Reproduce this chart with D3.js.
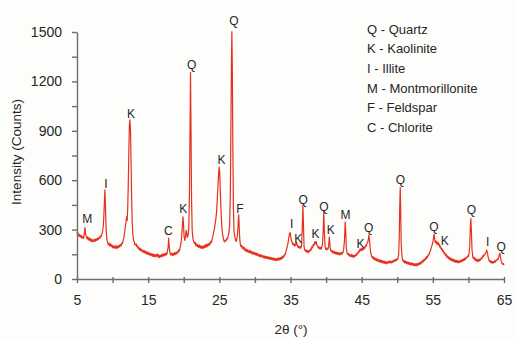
<!DOCTYPE html>
<html>
<head>
<meta charset="utf-8">
<script src="https://cdn.jsdelivr.net/npm/d3@7"></script>
<style>
  body { margin: 0; background: #fdfdfb; }
  text { font-family: "Liberation Sans", Arial, sans-serif; }
</style>
</head>
<body>
<svg id="xrd" width="517" height="340"></svg>
<script>
// XRD pattern, [2θ, counts]
const trace = [
  [5.0,285],[5.1,268],[5.2,276],[5.3,258],[5.4,270],[5.5,254],[5.6,264],[5.7,248],[5.8,258],[5.9,246],
  [6.0,266],[6.06,292],[6.12,312],[6.2,276],[6.3,256],[6.4,244],[6.5,256],[6.6,238],[6.7,250],[6.8,232],
  [6.9,246],[7.0,228],[7.1,240],[7.2,226],[7.3,238],[7.4,228],[7.5,242],[7.6,230],[7.7,244],[7.8,234],
  [7.9,248],[8.0,240],[8.1,254],[8.2,246],[8.3,262],[8.4,258],[8.5,274],[8.6,292],[8.7,326],[8.78,390],
  [8.85,470],[8.92,542],[8.98,470],[9.05,360],[9.12,282],[9.2,240],[9.3,224],[9.4,208],[9.5,218],[9.6,200],
  [9.7,214],[9.8,196],[9.9,208],[10.0,190],[10.1,202],[10.2,186],[10.3,200],[10.4,188],[10.5,204],[10.6,184],
  [10.7,198],[10.8,190],[10.9,206],[11.0,194],[11.1,210],[11.2,202],[11.3,220],[11.4,216],[11.5,238],[11.6,254],
  [11.7,284],[11.8,320],[11.9,352],[11.97,378],[12.05,356],[12.12,420],[12.2,560],[12.28,760],[12.36,930],[12.44,966],
  [12.52,900],[12.6,700],[12.68,480],[12.76,340],[12.85,270],[12.95,234],[13.05,226],[13.15,206],[13.3,214],[13.4,196],
  [13.5,202],[13.6,184],[13.7,192],[13.8,176],[13.9,186],[14.0,170],[14.1,180],[14.2,164],[14.3,174],[14.4,160],
  [14.5,172],[14.6,156],[14.7,168],[14.8,152],[14.9,164],[15.0,148],[15.1,160],[15.2,146],[15.3,156],[15.4,142],
  [15.5,154],[15.6,138],[15.7,152],[15.8,136],[15.9,148],[16.0,134],[16.1,150],[16.2,138],[16.3,152],[16.4,132],
  [16.5,146],[16.6,130],[16.7,144],[16.8,134],[16.9,150],[17.0,136],[17.1,152],[17.2,140],[17.3,154],[17.4,142],
  [17.5,158],[17.6,148],[17.7,164],[17.8,192],[17.88,248],[17.95,200],[18.05,160],[18.15,146],[18.3,158],[18.4,142],
  [18.5,156],[18.6,144],[18.7,160],[18.8,148],[18.9,162],[19.0,152],[19.1,168],[19.2,160],[19.3,178],[19.4,170],
  [19.5,192],[19.6,214],[19.7,252],[19.8,320],[19.9,378],[19.97,330],[20.05,256],[20.15,234],[20.25,262],[20.35,296],
  [20.42,282],[20.5,252],[20.6,264],[20.7,302],[20.8,520],[20.88,900],[20.95,1255],[21.02,900],[21.1,480],[21.18,300],
  [21.28,248],[21.38,230],[21.5,216],[21.6,224],[21.7,202],[21.8,214],[21.9,196],[22.0,208],[22.1,192],[22.2,206],
  [22.3,188],[22.4,202],[22.5,186],[22.6,200],[22.7,184],[22.8,202],[22.9,190],[23.0,208],[23.1,192],[23.2,210],
  [23.3,196],[23.4,214],[23.5,202],[23.6,220],[23.7,210],[23.8,228],[23.9,222],[24.0,242],[24.1,260],[24.2,284],
  [24.3,302],[24.4,332],[24.5,362],[24.6,402],[24.7,472],[24.8,560],[24.9,640],[24.98,680],[25.06,640],[25.15,520],
  [25.25,400],[25.35,320],[25.45,272],[25.55,250],[25.65,232],[25.75,226],[25.85,236],[25.95,232],[26.05,248],[26.15,244],
  [26.25,262],[26.35,282],[26.45,330],[26.55,520],[26.62,900],[26.7,1300],[26.76,1502],[26.82,1300],[26.9,800],[26.98,430],
  [27.06,290],[27.15,262],[27.25,240],[27.35,228],[27.45,240],[27.55,270],[27.65,340],[27.72,390],[27.78,330],[27.86,250],
  [27.95,210],[28.05,196],[28.15,204],[28.25,186],[28.35,196],[28.45,178],[28.55,190],[28.65,170],[28.75,182],[28.85,166],
  [28.95,178],[29.05,162],[29.15,174],[29.25,160],[29.35,172],[29.45,156],[29.55,168],[29.65,152],[29.75,164],[29.85,150],
  [29.95,162],[30.05,146],[30.15,158],[30.25,144],[30.35,156],[30.45,140],[30.55,150],[30.65,136],[30.75,148],[30.85,134],
  [30.95,146],[31.05,132],[31.15,142],[31.25,128],[31.35,140],[31.45,126],[31.55,138],[31.65,124],[31.75,136],[31.85,122],
  [31.95,134],[32.05,120],[32.15,132],[32.25,118],[32.35,130],[32.45,116],[32.55,128],[32.65,114],[32.75,126],[32.85,112],
  [32.95,124],[33.05,112],[33.15,126],[33.25,114],[33.35,128],[33.45,116],[33.55,130],[33.65,118],[33.75,134],[33.85,124],
  [33.95,140],[34.05,132],[34.15,150],[34.25,146],[34.35,166],[34.45,180],[34.55,200],[34.65,218],[34.75,245],[34.85,272],
  [34.95,282],[35.05,255],[35.15,230],[35.25,222],[35.35,208],[35.45,216],[35.55,200],[35.65,212],[35.75,204],[35.85,222],
  [35.95,206],[36.05,192],[36.15,200],[36.25,188],[36.35,196],[36.45,186],[36.55,202],[36.65,300],[36.74,450],[36.82,330],
  [36.9,200],[36.98,178],[37.1,168],[37.2,178],[37.3,162],[37.4,172],[37.5,160],[37.6,174],[37.7,166],[37.8,182],
  [37.9,176],[38.0,196],[38.1,190],[38.2,210],[38.3,204],[38.4,226],[38.5,214],[38.6,228],[38.7,208],[38.8,200],
  [38.9,188],[39.0,196],[39.1,182],[39.2,192],[39.3,180],[39.4,196],[39.5,210],[39.6,300],[39.68,410],[39.76,290],
  [39.85,200],[39.95,182],[40.05,176],[40.15,188],[40.25,180],[40.35,196],[40.45,255],[40.52,220],[40.6,182],[40.7,168],
  [40.8,174],[40.9,160],[41.0,170],[41.1,156],[41.2,166],[41.3,152],[41.4,164],[41.5,150],[41.6,162],[41.7,148],
  [41.8,160],[41.9,146],[42.0,158],[42.1,148],[42.2,162],[42.3,154],[42.45,172],[42.58,230],[42.68,345],[42.76,290],
  [42.84,190],[42.94,160],[43.05,148],[43.15,156],[43.25,140],[43.35,150],[43.45,136],[43.55,148],[43.65,134],[43.75,146],
  [43.85,132],[43.95,144],[44.05,136],[44.15,148],[44.25,142],[44.35,158],[44.45,152],[44.55,168],[44.65,164],[44.75,182],
  [44.85,172],[44.95,186],[45.05,172],[45.15,186],[45.25,178],[45.35,192],[45.45,186],[45.55,204],[45.65,200],[45.75,218],
  [45.85,222],[45.95,244],[46.02,268],[46.1,236],[46.2,184],[46.3,152],[46.4,140],[46.5,128],[46.6,136],[46.7,120],
  [46.8,130],[46.9,114],[47.0,126],[47.1,110],[47.2,122],[47.3,106],[47.4,118],[47.5,104],[47.6,116],[47.7,100],
  [47.8,114],[47.9,98],[48.0,110],[48.1,96],[48.2,108],[48.3,94],[48.4,106],[48.5,92],[48.6,104],[48.7,96],
  [48.8,108],[48.9,98],[49.0,110],[49.1,96],[49.2,108],[49.3,100],[49.4,112],[49.5,104],[49.6,116],[49.7,108],
  [49.8,120],[49.9,112],[50.0,124],[50.1,122],[50.2,150],[50.28,250],[50.35,440],[50.42,556],[50.48,420],[50.55,220],
  [50.65,140],[50.75,118],[50.85,104],[50.95,114],[51.05,98],[51.15,108],[51.25,94],[51.35,106],[51.45,92],[51.55,102],
  [51.65,88],[51.75,100],[51.85,86],[51.95,98],[52.05,84],[52.15,96],[52.25,82],[52.35,94],[52.45,80],[52.55,92],
  [52.65,80],[52.75,94],[52.85,82],[52.95,96],[53.05,86],[53.15,100],[53.25,90],[53.35,106],[53.45,96],[53.55,112],
  [53.65,104],[53.75,120],[53.85,112],[53.95,128],[54.05,120],[54.15,138],[54.25,130],[54.35,148],[54.45,146],[54.55,164],
  [54.65,170],[54.75,186],[54.85,200],[54.95,214],[55.05,236],[55.12,256],[55.19,272],[55.26,242],[55.34,222],[55.42,232],
  [55.5,214],[55.58,226],[55.66,210],[55.74,222],[55.82,204],[55.9,212],[55.98,194],[56.08,200],[56.18,180],[56.28,186],
  [56.38,168],[56.48,172],[56.58,154],[56.68,160],[56.78,142],[56.88,150],[56.98,132],[57.08,140],[57.18,124],[57.28,134],
  [57.38,118],[57.48,128],[57.58,112],[57.68,124],[57.78,108],[57.88,120],[57.98,104],[58.08,116],[58.18,102],[58.28,114],
  [58.38,100],[58.48,112],[58.58,98],[58.68,110],[58.78,100],[58.88,114],[58.98,104],[59.08,118],[59.18,108],[59.28,122],
  [59.38,112],[59.48,126],[59.58,118],[59.68,132],[59.78,128],[59.88,140],[59.98,136],[60.08,150],[60.18,200],[60.26,300],
  [60.34,368],[60.42,290],[60.5,180],[60.6,138],[60.7,124],[60.8,132],[60.9,114],[61.0,124],[61.1,108],[61.2,120],
  [61.3,106],[61.4,118],[61.5,108],[61.6,122],[61.7,114],[61.8,128],[61.9,124],[62.0,140],[62.1,136],[62.2,148],
  [62.3,146],[62.4,160],[62.5,164],[62.58,176],[62.66,160],[62.76,136],[62.86,118],[62.96,106],[63.06,112],[63.16,98],
  [63.26,108],[63.36,96],[63.46,106],[63.56,98],[63.66,110],[63.76,102],[63.86,114],[63.96,110],[64.06,122],[64.16,118],
  [64.26,132],[64.34,146],[64.42,158],[64.5,134],[64.6,110],[64.7,96],[64.8,90],[64.9,94],[65.0,84]
];

// peak labels: letter, 2θ and counts where the letter sits
const peakLetters = ["M","I","K","C","K","Q","K","Q","F","I","K","Q","K","Q","K","M","K","Q","Q","Q","K","Q","I","Q"];
const peakTheta   = [6.45,9.07,12.58,17.83,19.93,21.1,25.32,27.05,27.9,35.15,36.08,36.78,38.52,39.69,40.67,42.74,44.84,46.0,50.46,55.14,56.69,60.43,62.72,64.6];
const peakCounts  = [368,581,1006,293,429,1299,722,1568,429,338,243,484,273,439,302,389,217,314,601,318,231,423,226,196];

const legendEntries = ["Q - Quartz","K - Kaolinite","I - Illite","M - Montmorillonite","F - Feldspar","C - Chlorite"];

const xTickValues = [5,10,15,20,25,30,35,40,45,50,55,60,65];
const xTickLabels = [5,15,25,35,45,55,65];
const yTickValues = [0,150,300,450,600,750,900,1050,1200,1350,1500];
const yTickLabels = [0,300,600,900,1200,1500];

const svg = d3.select("#xrd");
const x = d3.scaleLinear().domain([5, 65]).range([77, 504]);
const y = d3.scaleLinear().domain([0, 1500]).range([279, 32]);

// trace
const line = d3.line().x((d) => x(d[0])).y((d) => y(d[1]));
svg.append("path")
  .datum(trace)
  .attr("d", line)
  .attr("fill", "none")
  .attr("stroke", "#e5301f")
  .attr("stroke-width", 1.2)
  .attr("stroke-linejoin", "round");

// axes
const xAxis = svg.append("g")
  .attr("transform", "translate(0,279)")
  .call(d3.axisBottom(x).tickValues(xTickValues).tickSize(4).tickSizeOuter(0)
    .tickFormat((d) => (xTickLabels.includes(d) ? d : "")));
xAxis.selectAll(".tick line").attr("y1", -2).attr("y2", 4);

const yAxis = svg.append("g")
  .attr("transform", "translate(77,0)")
  .call(d3.axisLeft(y).tickValues(yTickValues).tickSize(5).tickSizeOuter(0)
    .tickFormat((d) => (yTickLabels.includes(d) ? d : "")));

svg.selectAll(".domain, .tick line").attr("stroke", "#6e6e6e").attr("stroke-width", 1.4);
svg.selectAll(".tick text")
  .attr("font-size", 14)
  .attr("fill", "#262626")
  .attr("font-family", '"Liberation Sans", Arial, sans-serif');
xAxis.selectAll(".tick text").attr("y", 16);
yAxis.selectAll(".tick text").attr("x", -15);

// axis titles
svg.append("text")
  .attr("transform", "translate(21,152) rotate(-90)")
  .attr("text-anchor", "middle")
  .attr("font-size", 13.5)
  .attr("fill", "#262626")
  .text("Intensity (Counts)");

svg.append("text")
  .attr("x", 291)
  .attr("y", 334)
  .attr("text-anchor", "middle")
  .attr("font-size", 13.5)
  .attr("fill", "#262626")
  .text("2θ (°)");

// peak letters
svg.append("g")
  .selectAll("text")
  .data(peakLetters)
  .enter()
  .append("text")
  .attr("x", (d, i) => x(peakTheta[i]))
  .attr("y", (d, i) => y(peakCounts[i]))
  .attr("dy", "0.36em")
  .attr("text-anchor", "middle")
  .attr("font-size", 12)
  .attr("fill", "#262626")
  .text((d) => d);

// legend
svg.append("g")
  .selectAll("text")
  .data(legendEntries)
  .enter()
  .append("text")
  .attr("x", 367)
  .attr("y", (d, i) => 29 + i * 19.7)
  .attr("dy", "0.36em")
  .attr("font-size", 13)
  .attr("fill", "#262626")
  .text((d) => d);
</script>
</body>
</html>
